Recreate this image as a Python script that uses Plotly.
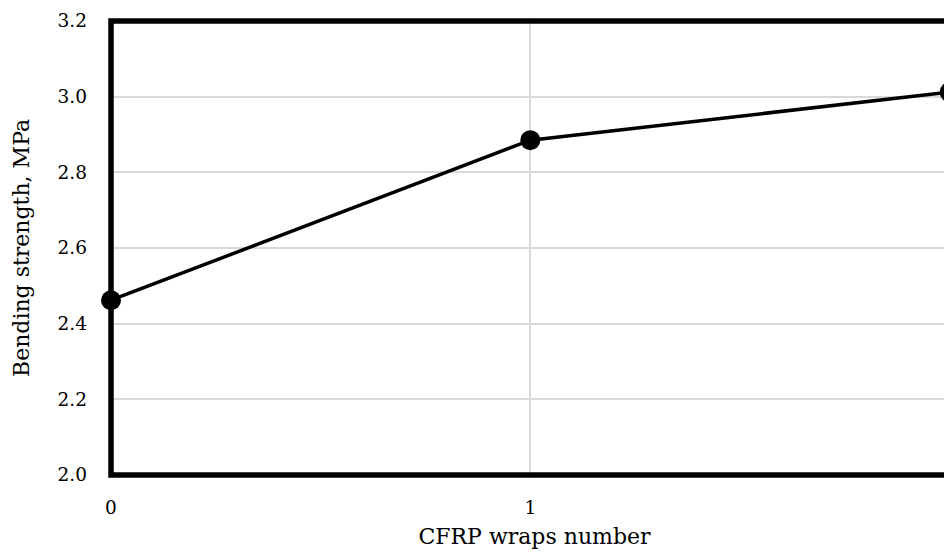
import plotly.graph_objects as go

# Daten
wraps = [0, 1, 2]
strength = [2.462, 2.885, 3.012]
y_ticks = [2.0, 2.2, 2.4, 2.6, 2.8, 3.0, 3.2]

fig = go.Figure()

# Messpunkte mit Linie
fig.add_trace(go.Scatter(
    x=wraps,
    y=strength,
    mode='lines+markers',
    line=dict(color='black', width=3.5),
    marker=dict(size=20, color='black'),
    cliponaxis=False,
    showlegend=False
))

# Rahmen (rechte Seite liegt ausserhalb des Bildes)
fig.add_shape(
    type='rect', xref='paper', yref='paper',
    x0=0, x1=1.03, y0=0, y1=1,
    line=dict(color='black', width=5.5),
    layer='above'
)

font = 'DejaVu Serif'
fig.update_layout(
    width=952, height=552,
    margin=dict(l=103, r=2, t=11, b=85),
    plot_bgcolor='white',
    paper_bgcolor='white',
    font=dict(family=font, size=18.5, color='black'),
    xaxis=dict(
        range=[0, 2.02],
        tickvals=wraps,
        showgrid=True, gridcolor='#d9d9d9', gridwidth=1.5,
        zeroline=False, showline=False,
        ticks='', ticklabelstandoff=19,
        title=dict(text='CFRP wraps number', standoff=12),
        tickfont=dict(size=18.5),
    ),
    yaxis=dict(
        range=[2.0, 3.2],
        tickvals=y_ticks,
        tickformat='.1f',
        showgrid=True, gridcolor='#d9d9d9', gridwidth=1.5,
        zeroline=False, showline=False,
        ticks='', ticklabelstandoff=23,
        title=dict(text='Bending strength, MPa', standoff=21),
        tickfont=dict(size=18.5),
    ),
)

fig.write_html("out.html")
